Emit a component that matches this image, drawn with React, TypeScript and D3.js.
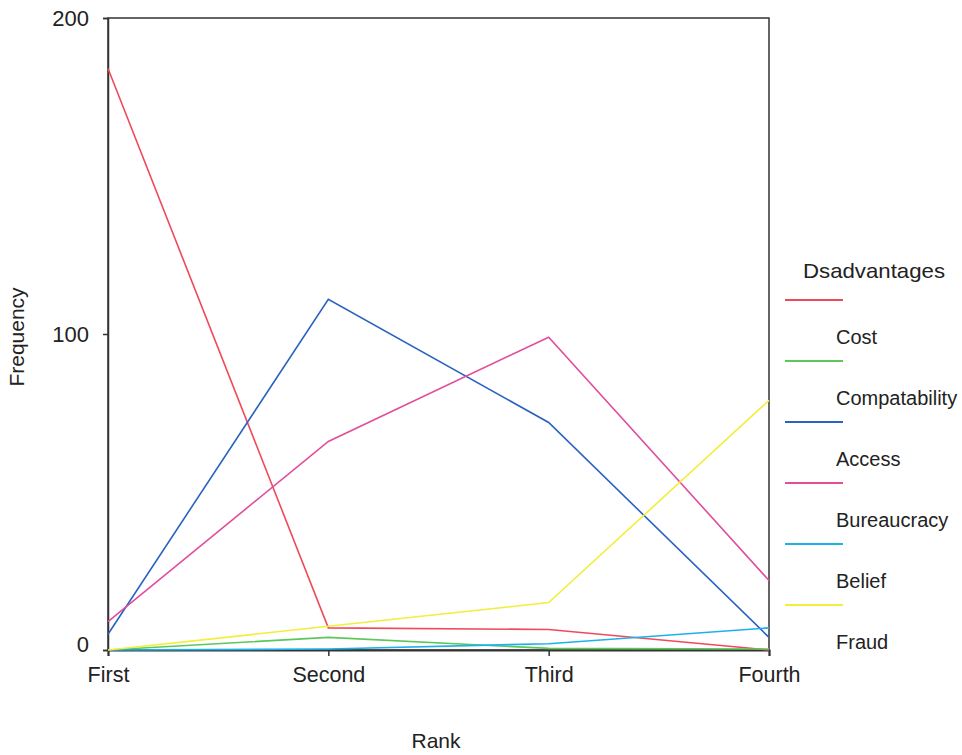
import React, { useEffect, useRef } from "react";
import * as d3 from "d3";

const ranks = ["First", "Second", "Third", "Fourth"];
const seriesNames = ["Cost", "Compatability", "Access", "Bureaucracy", "Belief", "Fraud"];
const seriesColors = ["#f04a5a", "#5cc85a", "#2a62c0", "#e04e9c", "#1eb0ea", "#f2ee3a"];
const cost = [184, 7, 6.5, 0];
const compatability = [0, 4, 0.5, 0.3];
const access = [5, 111, 72, 4];
const bureaucracy = [9, 66, 99, 22];
const belief = [0, 0.3, 2, 7];
const fraud = [0, 7.5, 15, 79];
const yTicks = [0, 100, 200];

const allSeries = [cost, compatability, access, bureaucracy, belief, fraud];

export default function App() {
  const ref = useRef<SVGSVGElement | null>(null);
  useEffect(() => {
    const svg = d3.select(ref.current);
    svg.selectAll("*").remove();
    const font = "'Liberation Sans', Arial, sans-serif";
    const left = 108, right = 769, top = 18, bottom = 650;
    const x = d3.scalePoint<string>().domain(ranks).range([left, right]);
    const y = d3.scaleLinear().domain([0, 200]).range([bottom, top]);

    svg.append("rect").attr("width", 962).attr("height", 755).attr("fill", "#fff");

    // frame
    svg.append("rect")
      .attr("x", left).attr("y", top)
      .attr("width", right - left).attr("height", bottom - top)
      .attr("fill", "none").attr("stroke", "#333").attr("stroke-width", 1.5);

    // y axis
    const yAxis = svg.append("g").attr("transform", `translate(${left},0)`)
      .call(d3.axisLeft(y).tickValues(yTicks).tickSize(5).tickPadding(14).tickFormat(d3.format("d")));
    yAxis.select(".domain").attr("stroke", "#333").attr("stroke-width", 1.5);
    yAxis.selectAll(".tick line").attr("stroke", "#333").attr("stroke-width", 1.5);
    yAxis.selectAll(".tick text").attr("font-family", font).attr("font-size", 22).attr("fill", "#222")
      .attr("dy", (d: any) => (d === 0 ? "0.05em" : "0.32em"));

    // x axis
    const xAxis = svg.append("g").attr("transform", `translate(0,${bottom})`)
      .call(d3.axisBottom(x).tickSize(6).tickPadding(11));
    xAxis.select(".domain").attr("stroke", "#333").attr("stroke-width", 2);
    xAxis.selectAll(".tick line").attr("stroke", "#333").attr("stroke-width", 1.5);
    xAxis.selectAll(".tick text").attr("font-family", font).attr("font-size", 21.5).attr("fill", "#222");

    // lines
    const line = d3.line<number>().x((_, i) => x(ranks[i]) as number).y((d) => y(d));
    allSeries.forEach((s, i) => {
      svg.append("path").datum(s).attr("d", line)
        .attr("fill", "none").attr("stroke", seriesColors[i]).attr("stroke-width", 1.6);
    });

    // axis titles
    svg.append("text").attr("x", 436).attr("y", 748).attr("text-anchor", "middle")
      .attr("font-family", font).attr("font-size", 21).attr("fill", "#222").text("Rank");
    svg.append("text").attr("transform", "translate(24,337) rotate(-90)").attr("text-anchor", "middle")
      .attr("font-family", font).attr("font-size", 21).attr("fill", "#222").text("Frequency");

    // legend
    const lg = svg.append("g");
    lg.append("text").attr("x", 803).attr("y", 278).attr("font-family", font).attr("font-size", 21)
      .attr("textLength", 142).attr("lengthAdjust", "spacingAndGlyphs")
      .attr("fill", "#222").text("Dsadvantages");
    seriesNames.forEach((n, i) => {
      const ly = 300 + i * 61;
      lg.append("line").attr("x1", 785).attr("x2", 843).attr("y1", ly).attr("y2", ly)
        .attr("stroke", seriesColors[i]).attr("stroke-width", 2);
      lg.append("text").attr("x", 836).attr("y", ly + 44).attr("font-family", font).attr("font-size", 20)
        .attr("fill", "#222").text(n);
    });
  }, []);
  return (
    <svg ref={ref} width={962} height={755}
      style={{ position: "absolute", left: 0, top: 0, display: "block" }} />
  );
}
